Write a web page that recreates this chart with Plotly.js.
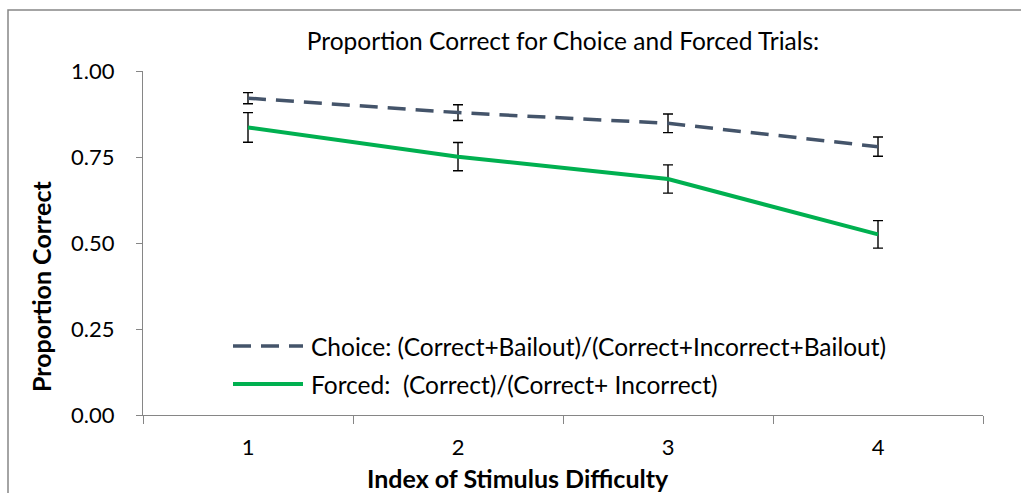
<!DOCTYPE html>
<html>
<head>
<meta charset="utf-8">
<script src="https://cdn.plot.ly/plotly-3.0.1.min.js"></script>
<style>html,body{margin:0;padding:0;background:#fff;}#chart{width:1021px;height:493px;}</style>
</head>
<body>
<div id="chart"></div>
<script>
const categories = [1, 2, 3, 4];
const tickLabels = ['1', '2', '3', '4'];
const choiceValues = [0.921, 0.879, 0.848, 0.780];
const choiceErrors = [0.016, 0.023, 0.027, 0.028];
const forcedValues = [0.836, 0.751, 0.686, 0.525];
const forcedErrors = [0.043, 0.041, 0.041, 0.040];
const choiceName = 'Choice: (Correct+Bailout)/(Correct+Incorrect+Bailout)';
const forcedName = 'Forced:\u00a0 (Correct)/(Correct+ Incorrect)';
const boundaries = [0.5, 1.5, 2.5, 3.5, 4.5];
const yTicks = [0, 0.25, 0.5, 0.75, 1];

const FONT = 'Lato, "Open Sans", sans-serif';
const AXIS_GRAY = '#868686';
const CHOICE_COLOR = '#44546A';
const FORCED_COLOR = '#00B050';
const CHOICE_DASH = '18px,10px';

// plot-area pixel geometry helpers (for layout placement only)
const PL = 143, PR = 983, PT = 71, PB = 415;
const px = v => (v - PL) / (PR - PL);
const py = v => (PB - v) / (PB - PT);

const traces = [
  {
    x: categories, y: choiceValues, name: choiceName, type: 'scatter', mode: 'lines',
    line: {color: CHOICE_COLOR, width: 3.5, dash: CHOICE_DASH},
    error_y: {type: 'data', array: choiceErrors, visible: true, color: '#000', thickness: 1.4, width: 5}
  },
  {
    x: categories, y: forcedValues, name: forcedName, type: 'scatter', mode: 'lines',
    line: {color: FORCED_COLOR, width: 4},
    error_y: {type: 'data', array: forcedErrors, visible: true, color: '#000', thickness: 1.4, width: 5}
  },
  // invisible trace on xaxis2 so the category-boundary axis is drawn
  {x: [0.5], y: [null], xaxis: 'x2', yaxis: 'y', showlegend: false, hoverinfo: 'skip', mode: 'lines'}
];

const legendRows = [
  {name: choiceName, color: CHOICE_COLOR, width: 3.5, dash: CHOICE_DASH, y: 346},
  {name: forcedName, color: FORCED_COLOR, width: 4, dash: 'solid', y: 384}
];

const shapes = [
  {type: 'rect', xref: 'paper', yref: 'paper', x0: px(8), x1: px(1080), y0: py(560), y1: py(10),
   line: {color: AXIS_GRAY, width: 1.5}, fillcolor: 'rgba(0,0,0,0)', layer: 'below'}
];
const annotations = [
  {text: '<b>Index of Stimulus Difficulty</b>', xref: 'paper', yref: 'paper', x: px(518), y: py(478),
   xanchor: 'center', yanchor: 'middle', showarrow: false, font: {family: FONT, size: 25, color: '#000'}},
  {text: '<b>Proportion Correct</b>', xref: 'paper', yref: 'paper', x: px(41), y: py(287), textangle: -90,
   xanchor: 'center', yanchor: 'middle', showarrow: false, font: {family: FONT, size: 25, color: '#000'}}
];
legendRows.forEach(r => {
  shapes.push({type: 'line', xref: 'paper', yref: 'paper', x0: px(233), x1: px(303), y0: py(r.y), y1: py(r.y),
               line: {color: r.color, width: r.width, dash: r.dash}});
  annotations.push({text: r.name, xref: 'paper', yref: 'paper', x: px(309), y: py(r.y), xanchor: 'left', yanchor: 'middle',
                    showarrow: false, font: {family: FONT, size: 24.5, color: '#000'}});
});

const layout = {
  width: 1021, height: 493,
  margin: {l: PL, r: 1021 - PR, t: PT, b: 493 - PB},
  paper_bgcolor: '#fff', plot_bgcolor: '#fff',
  font: {family: FONT, size: 22, color: '#000'},
  title: {text: 'Proportion Correct for Choice and Forced Trials:', x: 563 / 1021, xref: 'container', xanchor: 'center',
          y: 1 - 41 / 493, yref: 'container', yanchor: 'middle', font: {family: FONT, size: 24.5, color: '#000'}},
  showlegend: false,
  xaxis: {
    range: [0.5, 4.5], tickvals: categories, ticktext: tickLabels, ticks: '',
    showgrid: false, zeroline: false, showline: false, fixedrange: true,
    tickfont: {family: FONT, size: 22}, ticklabelstandoff: 17
  },
  xaxis2: {
    overlaying: 'x', anchor: 'y', side: 'bottom', range: [0.5, 4.5],
    tickvals: boundaries, ticktext: boundaries.map(() => ''), ticks: 'outside', ticklen: 8, tickcolor: AXIS_GRAY,
    showline: true, linecolor: AXIS_GRAY, linewidth: 1, showgrid: false, zeroline: false, fixedrange: true
  },
  yaxis: {
    range: [0, 1], tickvals: yTicks, tickformat: '.2f', ticks: 'outside', ticklen: 6, tickcolor: AXIS_GRAY,
    showline: true, linecolor: AXIS_GRAY, linewidth: 1, showgrid: false, zeroline: false, fixedrange: true,
    tickfont: {family: FONT, size: 22}, ticklabelstandoff: 17
  },
  shapes: shapes,
  annotations: annotations
};

Plotly.newPlot('chart', traces, layout, {staticPlot: true, displayModeBar: false});
</script>
</body>
</html>
